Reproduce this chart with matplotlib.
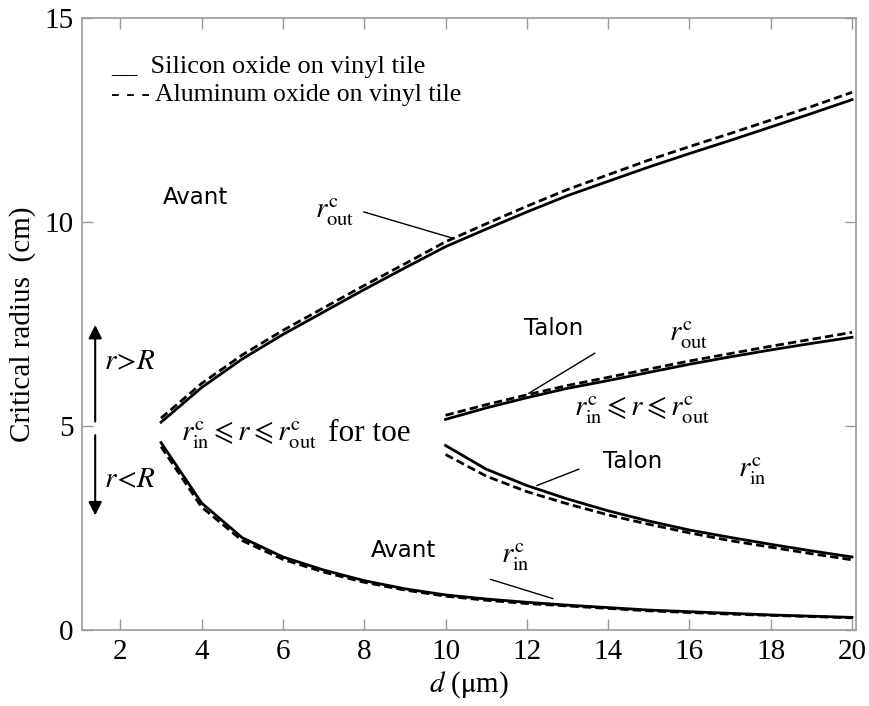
import numpy as np
import matplotlib.pyplot as plt

plt.rcParams['font.family'] = 'serif'
plt.rcParams['font.serif'] = ['Liberation Serif', 'DejaVu Serif']
plt.rcParams['mathtext.fontset'] = 'stix'

# toe (avant) curves, d = 3..20
d_avant = np.arange(3, 21)
out_avant_si = [5.1, 5.95, 6.65, 7.25, 7.8, 8.35, 8.88, 9.4, 9.83, 10.25,
                10.65, 11.0, 11.35, 11.68, 12.0, 12.33, 12.66, 13.0]
out_avant_al = [5.2, 6.05, 6.75, 7.35, 7.9, 8.45, 8.98, 9.52, 9.96, 10.39,
                10.8, 11.16, 11.52, 11.85, 12.17, 12.5, 12.83, 13.18]
in_avant_si = [4.6, 3.12, 2.27, 1.8, 1.48, 1.22, 1.02, 0.87, 0.77, 0.69,
               0.62, 0.56, 0.5, 0.46, 0.42, 0.38, 0.35, 0.32]
in_avant_al = [4.5, 3.02, 2.2, 1.74, 1.43, 1.18, 0.99, 0.84, 0.74, 0.66,
               0.6, 0.54, 0.48, 0.44, 0.4, 0.37, 0.34, 0.31]

# heel (talon) curves, d = 10..20
d_talon = np.arange(10, 21)
out_talon_si = [5.17, 5.45, 5.7, 5.93, 6.12, 6.32, 6.52, 6.7, 6.87, 7.03, 7.18]
out_talon_al = [5.27, 5.53, 5.77, 6.0, 6.2, 6.4, 6.6, 6.78, 6.96, 7.13, 7.3]
in_talon_si = [4.53, 3.95, 3.55, 3.22, 2.93, 2.68, 2.46, 2.28, 2.11, 1.95, 1.8]
in_talon_al = [4.31, 3.78, 3.4, 3.1, 2.83, 2.6, 2.39, 2.2, 2.04, 1.88, 1.73]

fig = plt.figure(figsize=(8.7, 7.06), dpi=100)
ax = fig.add_axes([0.094, 0.107, 0.89, 0.8675])

lw = 2.0
dash = (0, (3, 1.5))
for y in [out_avant_si, in_avant_si]:
    ax.plot(d_avant, y, color='black', lw=lw)
for y in [out_avant_al, in_avant_al]:
    ax.plot(d_avant, y, color='black', lw=lw, ls=dash)
for y in [out_talon_si, in_talon_si]:
    ax.plot(d_talon, y, color='black', lw=lw)
for y in [out_talon_al, in_talon_al]:
    ax.plot(d_talon, y, color='black', lw=lw, ls=dash)

ax.set_xlim(1.05, 20.1)
ax.set_ylim(0, 15)
ax.set_xticks(np.arange(2, 21, 2))
ax.set_yticks([0, 5, 10, 15])
ax.tick_params(direction='in', top=True, right=True, length=8, width=1,
               color='#999999', labelsize=21, pad=6)
for s in ax.spines.values():
    s.set_color('#999999')
    s.set_linewidth(1.2)

ax.set_xlabel(r'$d$ ($\mathrm{\mu}$m)', fontsize=21, labelpad=3)
ax.set_ylabel('Critical radius  (cm)', fontsize=21, labelpad=6)

# legend written as text
ax.text(1.78, 13.8, '__  Silicon oxide on vinyl tile', fontsize=19, va='center')
ax.text(1.78, 13.12, '- - - Aluminum oxide on vinyl tile', fontsize=18.5, va='center')

# labels
sans = dict(family='DejaVu Sans', fontsize=16.5)
ax.text(3.85, 10.6, 'Avant', ha='center', va='center', **sans)
ax.text(8.97, 1.96, 'Avant', ha='center', va='center', **sans)
ax.text(12.67, 7.4, 'Talon', ha='center', va='center', **sans)
ax.text(14.6, 4.14, 'Talon', ha='center', va='center', **sans)

ax.text(7.27, 10.25, r'$r_{\rm out}^{\rm c}$', fontsize=21, ha='center', va='center')
ax.text(15.99, 7.23, r'$r_{\rm out}^{\rm c}$', fontsize=21, ha='center', va='center')
ax.text(17.54, 3.9, r'$r_{\rm in}^{\rm c}$', fontsize=21, ha='center', va='center')
ax.text(11.73, 1.8, r'$r_{\rm in}^{\rm c}$', fontsize=21, ha='center', va='center')
ax.text(14.83, 5.38, r'$r_{\rm in}^{\rm c}\leqslant r\leqslant r_{\rm out}^{\rm c}$',
        fontsize=21, ha='center', va='center')
ax.text(3.5, 4.78, r'$r_{\rm in}^{\rm c}\leqslant r\leqslant r_{\rm out}^{\rm c}$',
        fontsize=21, ha='left', va='center')
ax.text(7.12, 4.82, 'for toe', fontsize=22.5, ha='left', va='center')

# pointer lines
ax.plot([7.99, 10.2], [10.25, 9.6], color='black', lw=1)
ax.plot([13.67, 12.05], [6.79, 5.81], color='black', lw=1)
ax.plot([13.28, 12.25], [3.95, 3.55], color='black', lw=1)
ax.plot([11.11, 12.64], [1.25, 0.78], color='black', lw=1)

# r>R / r<R arrows
ax.annotate('', xy=(1.38, 7.55), xytext=(1.38, 5.05),
            arrowprops=dict(arrowstyle='-|>', color='black', lw=1.5, mutation_scale=20))
ax.annotate('', xy=(1.38, 2.75), xytext=(1.38, 4.85),
            arrowprops=dict(arrowstyle='-|>', color='black', lw=1.5, mutation_scale=20))
ax.text(1.6, 6.57, r'$r\!>\!R$', fontsize=21, ha='left', va='center')
ax.text(1.6, 3.68, r'$r\!<\!R$', fontsize=21, ha='left', va='center')

fig.savefig('out.png', dpi=100)
